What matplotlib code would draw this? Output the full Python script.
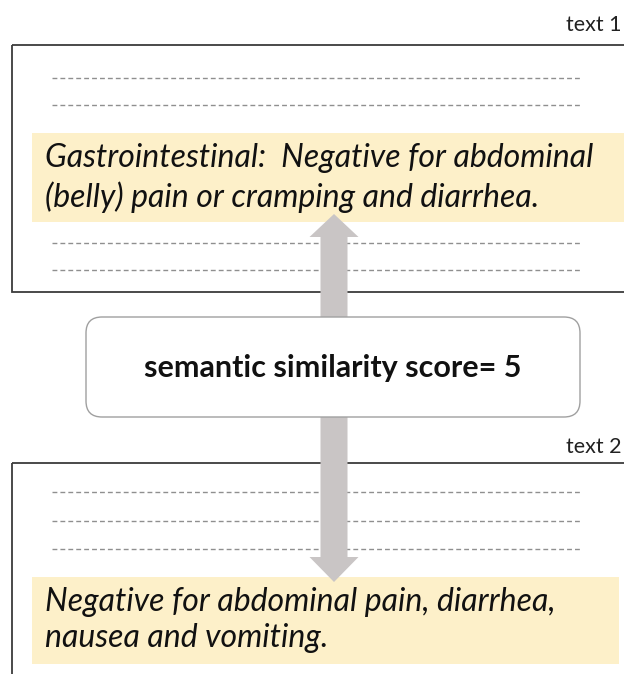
import matplotlib.pyplot as plt
from matplotlib.patches import Rectangle, FancyBboxPatch, FancyArrow

# content of the diagram
labels = ["text 1", "text 2"]
text1_lines = ["Gastrointestinal:  Negative for abdominal",
               "(belly) pain or cramping and diarrhea."]
text2_lines = ["Negative for abdominal pain, diarrhea,",
               "nausea and vomiting."]
score = 5
filler_y1 = [78, 105, 243, 270]
filler_y2 = [492, 521, 549]

W, H = 624, 674
fig = plt.figure(figsize=(W / 100, H / 100), dpi=100)
ax = fig.add_axes([0, 0, 1, 1])
ax.set_xlim(0, W)
ax.set_ylim(H, 0)
ax.axis("off")

FONT = "Lato"
YELLOW = "#fdf0c9"
ARROW = "#c9c5c5"
DASH = "#8f8f8f"

# outer boxes (open to the right / bottom)
ax.add_patch(Rectangle((12, 45), 700, 247, fill=False, ec="#3c3c3c", lw=1.3, zorder=1))
ax.add_patch(Rectangle((12, 463), 700, 300, fill=False, ec="#3c3c3c", lw=1.3, zorder=1))

# dashed filler lines
for y in filler_y1 + filler_y2:
    ax.plot([52, 582], [y, y], color=DASH, lw=1.0, ls=(0, (3.5, 2.2)), zorder=1)

# yellow highlights
ax.add_patch(Rectangle((32, 133), 700, 89, fc=YELLOW, ec="none", zorder=2))
ax.add_patch(Rectangle((32, 577), 587, 87, fc=YELLOW, ec="none", zorder=2))

# double arrow (drawn as two arrows behind the score box)
xc = 334
ax.add_patch(FancyArrow(xc, 370, 0, 214 - 370, width=27, head_width=49, head_length=23,
                        length_includes_head=True, fc=ARROW, ec="none", zorder=3))
ax.add_patch(FancyArrow(xc, 370, 0, 582 - 370, width=27, head_width=49, head_length=25,
                        length_includes_head=True, fc=ARROW, ec="none", zorder=3))

# score box
ax.add_patch(FancyBboxPatch((86, 317), 494, 100, boxstyle="round,pad=0,rounding_size=16",
                            fc="white", ec="#a0a0a0", lw=1.0, zorder=4))
ax.text(333, 368, f"semantic similarity score= {score}", fontsize=22, fontweight="bold",
        family=FONT, ha="center", va="center", color="#111111", zorder=5)

# labels
ax.text(622, 25, labels[0], fontsize=15.5, family=FONT, ha="right", va="center", color="#222222")
ax.text(622, 447, labels[1], fontsize=15.5, family=FONT, ha="right", va="center", color="#222222")

# highlighted sentences
for i, line in enumerate(text1_lines):
    ax.text(45, 158 + 39 * i, line, fontsize=23, style="italic", family=FONT,
            ha="left", va="center", color="#111111", zorder=5)
for i, line in enumerate(text2_lines):
    ax.text(45, 602 + 36 * i, line, fontsize=23, style="italic", family=FONT,
            ha="left", va="center", color="#111111", zorder=5)

fig.savefig("out.png", dpi=100, facecolor="white")
